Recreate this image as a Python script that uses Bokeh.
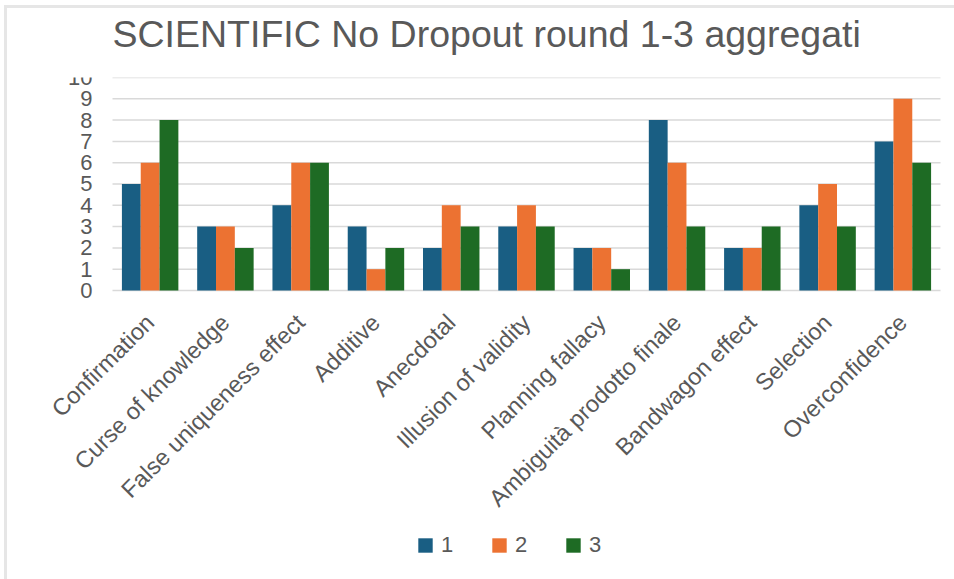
from math import pi

from bokeh.embed import file_html
from bokeh.models import (ColumnDataSource, FixedTicker, Legend, LegendItem,
                          Range1d, Title)
from bokeh.plotting import figure
from bokeh.resources import INLINE
from bokeh.transform import dodge

# Bias categories and the counts for each round
categories = [
    "Confirmation",
    "Curse of knowledge",
    "False uniqueness effect",
    "Additive",
    "Anecdotal",
    "Illusion of validity",
    "Planning fallacy",
    "Ambiguità prodotto finale",
    "Bandwagon effect",
    "Selection",
    "Overconfidence",
]
round_1 = [5, 3, 4, 3, 2, 3, 2, 8, 2, 4, 7]
round_2 = [6, 3, 6, 1, 4, 4, 2, 6, 2, 5, 9]
round_3 = [8, 2, 6, 2, 3, 3, 1, 3, 3, 3, 6]
series_names = ["1", "2", "3"]
series_colors = ["#195e83", "#ec7232", "#1e6b24"]
y_ticks = list(range(0, 11))

TEXT = "#595959"
FONT = "Liberation Sans"

positions = list(range(len(categories)))
source = ColumnDataSource(dict(x=positions, r1=round_1, r2=round_2, r3=round_3))

# category slots run from -0.5 to 10.5; the extra room on the left and the
# space below zero hold the value labels, the category labels and the legend
x_left, x_right = -0.5, len(categories) - 0.5

p = figure(
    x_range=Range1d(x_left - 1.395, x_right + 0.186),
    y_range=Range1d(-13.57, 10),
    frame_width=947,
    frame_height=502,
    min_border_left=0,
    min_border_right=0,
    min_border_top=69,
    min_border_bottom=0,
    output_backend="svg",
    toolbar_location=None,
    title="SCIENTIFIC No Dropout round 1-3 aggregati",
)
p.styles = {
    "margin-top": "5px",
    "margin-left": "4px",
    "border-top": "3px solid #e6e6e6",
    "border-left": "3px solid #e6e6e6",
}

p.title.text_font = FONT
p.title.text_font_size = "37.5px"
p.title.text_font_style = "normal"
p.title.text_color = TEXT
p.title.align = "left"
p.title.offset = 105
p.title.standoff = 0

# blank strip between the title and the plot area
p.add_layout(Title(text=" ", text_font_size="1px", standoff=20), "above")

# horizontal gridlines across the category slots only
p.segment(x0=x_left, x1=x_right, y0=y_ticks, y1=y_ticks,
          line_color="#d9d9d9", line_width=1.5)

renderers = []
for field, offset, color in zip(["r1", "r2", "r3"], [-0.25, 0.0, 0.25], series_colors):
    r = p.vbar(x=dodge("x", offset), top=field, width=0.25,
               source=source, fill_color=color, line_color=None)
    renderers.append(r)

p.outline_line_color = None
p.xgrid.visible = False
p.ygrid.visible = False

for ax in (p.xaxis[0], p.yaxis[0]):
    ax.axis_line_color = None
    ax.major_tick_line_color = None
    ax.minor_tick_line_color = None
    ax.major_label_text_font = FONT
    ax.major_label_text_color = TEXT

# value labels pinned to the left end of the gridlines
p.yaxis.ticker = FixedTicker(ticks=y_ticks)
p.yaxis.fixed_location = x_left
p.yaxis.major_label_text_font_size = "22px"
p.yaxis.major_label_standoff = 14

# category labels hang from the zero line
p.xaxis.ticker = FixedTicker(ticks=positions)
p.xaxis.major_label_overrides = {pos: name for pos, name in zip(positions, categories)}
p.xaxis.fixed_location = 0
p.xaxis.major_label_text_font_size = "23.5px"
p.xaxis.major_label_standoff = 22
p.xaxis.major_label_orientation = pi / 4

legend = Legend(
    items=[LegendItem(label=n, renderers=[r]) for n, r in zip(series_names, renderers)],
    orientation="horizontal",
    location=(409, 21),
    padding=0,
    margin=0,
    spacing=29,
    label_standoff=7,
    glyph_width=18,
    glyph_height=18,
    label_text_font=FONT,
    label_text_font_size="22px",
    label_text_color=TEXT,
    border_line_color=None,
    background_fill_alpha=0,
)
p.add_layout(legend)

open("out.html", "w").write(file_html(p, INLINE))
